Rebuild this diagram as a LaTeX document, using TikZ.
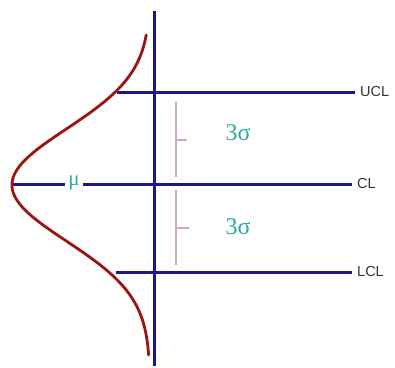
\documentclass[tikz,border=0pt]{standalone}
\usepackage{fontspec}
\setmainfont{Liberation Serif}
\setsansfont{Liberation Sans}
\definecolor{axisblue}{RGB}{28,22,140}
\definecolor{curvered}{RGB}{155,20,20}
\definecolor{tealtext}{RGB}{40,170,160}
\definecolor{pinkline}{RGB}{205,165,205}
\begin{document}
\begin{tikzpicture}[x=1pt,y=-1pt,
  axisline/.style={draw=axisblue,line width=3pt},
  bracketline/.style={draw=pinkline,line width=1.2pt},
  limitlabel/.style={font=\sffamily\fontsize{14.5}{14.5}\selectfont,text=black!80,anchor=west,inner sep=0pt,xshift=5pt},
  sigmalabel/.style={font=\fontsize{24}{24}\selectfont,text=tealtext},
  mulabel/.style={font=\fontsize{21}{21}\selectfont,text=tealtext,fill=white,inner sep=3pt}]
\useasboundingbox (0,0) rectangle (395,367);
% axis
\coordinate (axtop) at (154,11);
\coordinate (axbot) at (154,366);
\draw[axisline] (axtop) -- (axbot);
% limit lines
\coordinate (ucls) at (117,92);
\coordinate (ucle) at (355,92);
\coordinate (cls) at (12,184);
\coordinate (cle) at (352,184);
\coordinate (lcls) at (116,272);
\coordinate (lcle) at (352,272);
\draw[axisline] (ucls) -- (ucle);
\draw[axisline] (cls) -- (cle);
\draw[axisline] (lcls) -- (lcle);
\node[limitlabel] (ucl) at (ucle) {UCL};
\node[limitlabel] (cl) at (cle) {CL};
\node[limitlabel] (lcl) at (lcle) {LCL};
\node[mulabel] (mu) at (74,183) {μ};
% normal curve
\draw[curvered,line width=2.8pt,line cap=round] plot[domain=35:355,samples=120,smooth] ({150-138*exp(-0.5*((\x-185)/56)*((\x-185)/56))},\x);
% brackets
\coordinate (b1t) at (176,102);
\coordinate (b1b) at (176,177);
\coordinate (b1m) at (176,140);
\coordinate (b1k) at (187,140);
\draw[bracketline] (b1t) -- (b1b);
\draw[bracketline] (b1m) -- (b1k);
\coordinate (b2t) at (176,190);
\coordinate (b2b) at (176,265);
\coordinate (b2m) at (176,228);
\coordinate (b2k) at (189,228);
\draw[bracketline] (b2t) -- (b2b);
\draw[bracketline] (b2m) -- (b2k);
\node[sigmalabel] (s1) at (238,133) {3σ};
\node[sigmalabel] (s2) at (238,227) {3σ};
\end{tikzpicture}
\end{document}
